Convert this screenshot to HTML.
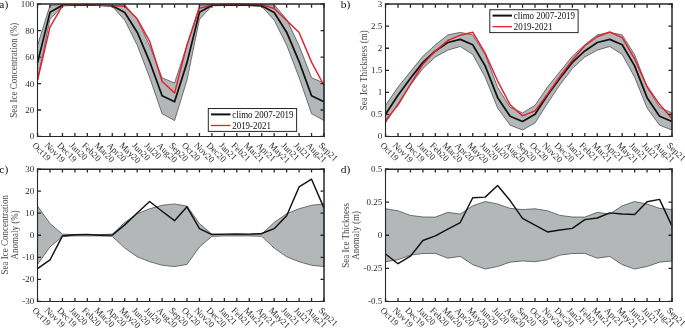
<!DOCTYPE html>
<html><head><meta charset="utf-8"><style>
html,body{margin:0;padding:0;background:#fff;}
body{width:685px;height:328px;overflow:hidden;}
svg{display:block;will-change:transform;}
text{font-family:"Liberation Serif", serif;fill:#2e2e2e;}
.t{font-size:9.0px;}
.l{font-size:9.0px;fill:#4a4a4a;}
.p{font-size:11.0px;fill:#111;}
.g{font-size:9.6px;fill:#111;}
</style></head><body>
<svg width="685" height="328" viewBox="0 0 685 328">
<rect width="685" height="328" fill="#fff"/>
<polygon points="37.55,45.16 50,5.34 62.46,4.55 74.91,4.68 87.37,4.68 99.82,4.81 112.28,5.08 124.73,4.81 137.18,19.3 149.64,45.69 162.09,77.71 174.55,83 187,45.16 199.46,5.34 211.91,4.55 224.37,4.68 236.82,4.68 249.27,4.81 261.73,5.08 274.18,4.81 286.64,19.3 299.09,45.69 311.55,77.71 324,83 324,120.57 311.55,113.69 299.09,77.44 286.64,45.1 274.18,20.16 261.73,6.4 249.27,5.61 236.82,5.47 224.37,5.47 211.91,5.87 199.46,19.36 187,80.09 174.55,120.57 162.09,113.69 149.64,77.44 137.18,45.1 124.73,20.16 112.28,6.4 99.82,5.61 87.37,5.47 74.91,5.47 62.46,5.87 50,19.36 37.55,80.09" fill="#b4b7b8" stroke="#3c3f40" stroke-width="0.7" stroke-linejoin="miter"/>
<polyline points="37.55,62.63 50,12.35 62.46,5.21 74.91,5.08 87.37,5.08 99.82,5.21 112.28,5.74 124.73,12.48 137.18,32.2 149.64,61.57 162.09,95.7 174.55,101.79 187,62.63 199.46,12.35 211.91,5.21 224.37,5.08 236.82,5.08 249.27,5.21 261.73,5.74 274.18,12.48 286.64,32.2 299.09,61.57 311.55,95.7 324,101.79" fill="none" stroke="#111111" stroke-width="1.75" stroke-linejoin="round" stroke-linecap="butt"/>
<polyline points="37.55,79.96 50,27.17 62.46,5.61 74.91,4.81 87.37,4.55 99.82,5.21 112.28,5.64 124.73,6.27 137.18,18.84 149.64,41.33 162.09,81.28 174.55,93.06 187,44.77 199.46,8.38 211.91,4.81 224.37,4.41 236.82,4.28 249.27,4.55 261.73,4.68 274.18,8.52 286.64,20.49 299.09,32.59 311.55,62.1 324,85.51" fill="none" stroke="#e4202c" stroke-width="1.45" stroke-linejoin="round" stroke-linecap="butt"/>
<path d="M37.55 136.45V132.95M37.55 4.15V7.65M50 136.45V132.95M50 4.15V7.65M62.46 136.45V132.95M62.46 4.15V7.65M74.91 136.45V132.95M74.91 4.15V7.65M87.37 136.45V132.95M87.37 4.15V7.65M99.82 136.45V132.95M99.82 4.15V7.65M112.28 136.45V132.95M112.28 4.15V7.65M124.73 136.45V132.95M124.73 4.15V7.65M137.18 136.45V132.95M137.18 4.15V7.65M149.64 136.45V132.95M149.64 4.15V7.65M162.09 136.45V132.95M162.09 4.15V7.65M174.55 136.45V132.95M174.55 4.15V7.65M187 136.45V132.95M187 4.15V7.65M199.46 136.45V132.95M199.46 4.15V7.65M211.91 136.45V132.95M211.91 4.15V7.65M224.37 136.45V132.95M224.37 4.15V7.65M236.82 136.45V132.95M236.82 4.15V7.65M249.27 136.45V132.95M249.27 4.15V7.65M261.73 136.45V132.95M261.73 4.15V7.65M274.18 136.45V132.95M274.18 4.15V7.65M286.64 136.45V132.95M286.64 4.15V7.65M299.09 136.45V132.95M299.09 4.15V7.65M311.55 136.45V132.95M311.55 4.15V7.65M324 136.45V132.95M324 4.15V7.65M37.55 136.45H41.05M324 136.45H320.5M37.55 109.99H41.05M324 109.99H320.5M37.55 83.53H41.05M324 83.53H320.5M37.55 57.07H41.05M324 57.07H320.5M37.55 30.61H41.05M324 30.61H320.5M37.55 4.15H41.05M324 4.15H320.5" stroke="#24282b" stroke-width="1.3" fill="none"/>
<path d="M36.95 4H324.75" stroke="#24282b" stroke-width="1.5" fill="none"/>
<path d="M36.95 136.5H324.65" stroke="#24282b" stroke-width="1.1" fill="none"/>
<path d="M37.5 3.35V137.05" stroke="#24282b" stroke-width="1.1" fill="none"/>
<path d="M324 3.35V137.05" stroke="#24282b" stroke-width="1.5" fill="none"/>
<text x="34.35" y="139.45" text-anchor="end" class="t">0</text>
<text x="34.35" y="112.99" text-anchor="end" class="t">20</text>
<text x="34.35" y="86.53" text-anchor="end" class="t">40</text>
<text x="34.35" y="60.07" text-anchor="end" class="t">60</text>
<text x="34.35" y="33.61" text-anchor="end" class="t">80</text>
<text x="34.35" y="7.15" text-anchor="end" class="t">100</text>
<text transform="translate(31.75 145.95) rotate(45)" class="t">Oct19</text>
<text transform="translate(44.2 145.95) rotate(45)" class="t">Nov19</text>
<text transform="translate(56.66 145.95) rotate(45)" class="t">Dec19</text>
<text transform="translate(69.11 145.95) rotate(45)" class="t">Jan20</text>
<text transform="translate(81.57 145.95) rotate(45)" class="t">Feb20</text>
<text transform="translate(94.02 145.95) rotate(45)" class="t">Mar20</text>
<text transform="translate(106.48 145.95) rotate(45)" class="t">Apr20</text>
<text transform="translate(118.93 145.95) rotate(45)" class="t">May20</text>
<text transform="translate(131.38 145.95) rotate(45)" class="t">Jun20</text>
<text transform="translate(143.84 145.95) rotate(45)" class="t">Jul20</text>
<text transform="translate(156.29 145.95) rotate(45)" class="t">Aug20</text>
<text transform="translate(168.75 145.95) rotate(45)" class="t">Sep20</text>
<text transform="translate(181.2 145.95) rotate(45)" class="t">Oct20</text>
<text transform="translate(193.66 145.95) rotate(45)" class="t">Nov20</text>
<text transform="translate(206.11 145.95) rotate(45)" class="t">Dec20</text>
<text transform="translate(218.57 145.95) rotate(45)" class="t">Jan21</text>
<text transform="translate(231.02 145.95) rotate(45)" class="t">Feb21</text>
<text transform="translate(243.47 145.95) rotate(45)" class="t">Mar21</text>
<text transform="translate(255.93 145.95) rotate(45)" class="t">Apr21</text>
<text transform="translate(268.38 145.95) rotate(45)" class="t">May21</text>
<text transform="translate(280.84 145.95) rotate(45)" class="t">Jun21</text>
<text transform="translate(293.29 145.95) rotate(45)" class="t">Jul21</text>
<text transform="translate(305.75 145.95) rotate(45)" class="t">Aug21</text>
<text transform="translate(318.2 145.95) rotate(45)" class="t">Sep21</text>
<rect x="208.3" y="108.5" width="88.3" height="22.9" fill="#fff" stroke="#24282b" stroke-width="1"/>
<path d="M211 114.4H230.5" stroke="#111111" stroke-width="2"/>
<path d="M211 125.5H230.5" stroke="#e4202c" stroke-width="1.3"/>
<text transform="translate(232.2 117.8) scale(0.934 1)" class="g">climo 2007-2019</text>
<text transform="translate(232.2 128.5) scale(0.934 1)" class="g">2019-2021</text>
<text transform="translate(17 70.2) rotate(-90) scale(1 1.1)" text-anchor="middle" class="l">Sea Ice Concentration (%)</text>
<polygon points="385.55,105.36 398,87.06 410.46,71.62 422.91,56.28 435.37,44.85 447.82,34.89 460.28,32.37 472.73,34.93 485.18,54.64 497.64,87.23 510.09,107.3 522.55,112.9 535,105.36 547.46,87.06 559.91,71.62 572.37,56.28 584.82,44.85 597.27,34.89 609.73,32.37 622.18,34.93 634.64,54.64 647.09,87.23 659.55,107.3 672,112.9 672,130.01 659.55,125.2 647.09,108.05 634.64,77.14 622.18,54.51 609.73,46.49 597.27,50.15 584.82,56.94 572.37,68.45 559.91,84.85 547.46,103.38 535,123 522.55,130.01 510.09,125.2 497.64,108.05 485.18,77.14 472.73,54.51 460.28,46.49 447.82,50.15 435.37,56.94 422.91,68.45 410.46,84.85 398,103.38 385.55,123" fill="#b4b7b8" stroke="#3c3f40" stroke-width="0.7" stroke-linejoin="miter"/>
<polyline points="385.55,114.18 398,95.22 410.46,78.24 422.91,62.36 435.37,50.9 447.82,42.52 460.28,39.43 472.73,44.72 485.18,65.89 497.64,97.64 510.09,116.25 522.55,121.46 535,114.18 547.46,95.22 559.91,78.24 572.37,62.36 584.82,50.9 597.27,42.52 609.73,39.43 622.18,44.72 634.64,65.89 647.09,97.64 659.55,116.25 672,121.46" fill="none" stroke="#111111" stroke-width="1.75" stroke-linejoin="round" stroke-linecap="butt"/>
<polyline points="385.55,120.44 398,105.14 410.46,84.41 422.91,64.13 435.37,51.12 447.82,40.49 460.28,35.2 472.73,32.24 485.18,53.19 497.64,81.06 510.09,104.7 522.55,115.86 535,110.83 547.46,94.11 559.91,76.52 572.37,60.07 584.82,45.69 597.27,36.78 609.73,31.98 622.18,37.67 634.64,58.97 647.09,86.48 659.55,104.3 672,118.41" fill="none" stroke="#e4202c" stroke-width="1.45" stroke-linejoin="round" stroke-linecap="butt"/>
<path d="M385.55 136.45V132.95M385.55 4.15V7.65M398 136.45V132.95M398 4.15V7.65M410.46 136.45V132.95M410.46 4.15V7.65M422.91 136.45V132.95M422.91 4.15V7.65M435.37 136.45V132.95M435.37 4.15V7.65M447.82 136.45V132.95M447.82 4.15V7.65M460.28 136.45V132.95M460.28 4.15V7.65M472.73 136.45V132.95M472.73 4.15V7.65M485.18 136.45V132.95M485.18 4.15V7.65M497.64 136.45V132.95M497.64 4.15V7.65M510.09 136.45V132.95M510.09 4.15V7.65M522.55 136.45V132.95M522.55 4.15V7.65M535 136.45V132.95M535 4.15V7.65M547.46 136.45V132.95M547.46 4.15V7.65M559.91 136.45V132.95M559.91 4.15V7.65M572.37 136.45V132.95M572.37 4.15V7.65M584.82 136.45V132.95M584.82 4.15V7.65M597.27 136.45V132.95M597.27 4.15V7.65M609.73 136.45V132.95M609.73 4.15V7.65M622.18 136.45V132.95M622.18 4.15V7.65M634.64 136.45V132.95M634.64 4.15V7.65M647.09 136.45V132.95M647.09 4.15V7.65M659.55 136.45V132.95M659.55 4.15V7.65M672 136.45V132.95M672 4.15V7.65M385.55 136.45H389.05M672 136.45H668.5M385.55 114.4H389.05M672 114.4H668.5M385.55 92.35H389.05M672 92.35H668.5M385.55 70.3H389.05M672 70.3H668.5M385.55 48.25H389.05M672 48.25H668.5M385.55 26.2H389.05M672 26.2H668.5M385.55 4.15H389.05M672 4.15H668.5" stroke="#24282b" stroke-width="1.3" fill="none"/>
<path d="M384.95 4H672.75" stroke="#24282b" stroke-width="1.5" fill="none"/>
<path d="M384.95 136.5H672.65" stroke="#24282b" stroke-width="1.1" fill="none"/>
<path d="M385.5 3.35V137.05" stroke="#24282b" stroke-width="1.1" fill="none"/>
<path d="M672 3.35V137.05" stroke="#24282b" stroke-width="1.5" fill="none"/>
<text x="382.35" y="139.45" text-anchor="end" class="t">0</text>
<text x="382.35" y="117.4" text-anchor="end" class="t">0.5</text>
<text x="382.35" y="95.35" text-anchor="end" class="t">1</text>
<text x="382.35" y="73.3" text-anchor="end" class="t">1.5</text>
<text x="382.35" y="51.25" text-anchor="end" class="t">2</text>
<text x="382.35" y="29.2" text-anchor="end" class="t">2.5</text>
<text x="382.35" y="7.15" text-anchor="end" class="t">3</text>
<text transform="translate(379.75 145.95) rotate(45)" class="t">Oct19</text>
<text transform="translate(392.2 145.95) rotate(45)" class="t">Nov19</text>
<text transform="translate(404.66 145.95) rotate(45)" class="t">Dec19</text>
<text transform="translate(417.11 145.95) rotate(45)" class="t">Jan20</text>
<text transform="translate(429.57 145.95) rotate(45)" class="t">Feb20</text>
<text transform="translate(442.02 145.95) rotate(45)" class="t">Mar20</text>
<text transform="translate(454.48 145.95) rotate(45)" class="t">Apr20</text>
<text transform="translate(466.93 145.95) rotate(45)" class="t">May20</text>
<text transform="translate(479.38 145.95) rotate(45)" class="t">Jun20</text>
<text transform="translate(491.84 145.95) rotate(45)" class="t">Jul20</text>
<text transform="translate(504.29 145.95) rotate(45)" class="t">Aug20</text>
<text transform="translate(516.75 145.95) rotate(45)" class="t">Sep20</text>
<text transform="translate(529.2 145.95) rotate(45)" class="t">Oct20</text>
<text transform="translate(541.66 145.95) rotate(45)" class="t">Nov20</text>
<text transform="translate(554.11 145.95) rotate(45)" class="t">Dec20</text>
<text transform="translate(566.57 145.95) rotate(45)" class="t">Jan21</text>
<text transform="translate(579.02 145.95) rotate(45)" class="t">Feb21</text>
<text transform="translate(591.47 145.95) rotate(45)" class="t">Mar21</text>
<text transform="translate(603.93 145.95) rotate(45)" class="t">Apr21</text>
<text transform="translate(616.38 145.95) rotate(45)" class="t">May21</text>
<text transform="translate(628.84 145.95) rotate(45)" class="t">Jun21</text>
<text transform="translate(641.29 145.95) rotate(45)" class="t">Jul21</text>
<text transform="translate(653.75 145.95) rotate(45)" class="t">Aug21</text>
<text transform="translate(666.2 145.95) rotate(45)" class="t">Sep21</text>
<rect x="489.8" y="9.7" width="88.3" height="22.9" fill="#fff" stroke="#24282b" stroke-width="1"/>
<path d="M492.5 15.6H512" stroke="#111111" stroke-width="2"/>
<path d="M492.5 26.7H512" stroke="#e4202c" stroke-width="1.3"/>
<text transform="translate(513.7 19) scale(0.934 1)" class="g">climo 2007-2019</text>
<text transform="translate(513.7 29.7) scale(0.934 1)" class="g">2019-2021</text>
<text transform="translate(367 70.2) rotate(-90) scale(1 1.1)" text-anchor="middle" class="l">Sea Ice Thickness (m)</text>
<polygon points="37.55,206.12 50,223.55 62.46,234.15 74.91,234.59 87.37,234.59 99.82,234.59 112.28,234.15 124.73,222.45 137.18,213.74 149.64,208.77 162.09,205.24 174.55,203.92 187,206.12 199.46,223.55 211.91,234.15 224.37,234.59 236.82,234.59 249.27,234.59 261.73,234.15 274.18,222.45 286.64,213.74 299.09,208.77 311.55,205.24 324,203.92 324,266.58 311.55,265.26 299.09,261.73 286.64,256.76 274.18,248.05 261.73,236.35 249.27,235.91 236.82,235.91 224.37,235.91 211.91,236.35 199.46,246.95 187,264.38 174.55,266.58 162.09,265.26 149.64,261.73 137.18,256.76 124.73,248.05 112.28,236.35 99.82,235.91 87.37,235.91 74.91,235.91 62.46,236.35 50,246.95 37.55,264.38" fill="#b4b7b8" stroke="#3c3f40" stroke-width="0.7" stroke-linejoin="miter"/>
<polyline points="37.55,268.57 50,259.96 62.46,235.91 74.91,234.81 87.37,234.37 99.82,235.25 112.28,235.1 124.73,224.88 137.18,212.96 149.64,201.49 162.09,211.2 174.55,220.69 187,206.78 199.46,228.63 211.91,234.59 224.37,234.15 236.82,233.93 249.27,234.15 261.73,233.48 274.18,228.63 286.64,215.72 299.09,186.92 311.55,179.2 324,208.11" fill="none" stroke="#111111" stroke-width="1.45" stroke-linejoin="round" stroke-linecap="butt"/>
<path d="M37.55 301.45V297.95M37.55 169.05V172.55M50 301.45V297.95M50 169.05V172.55M62.46 301.45V297.95M62.46 169.05V172.55M74.91 301.45V297.95M74.91 169.05V172.55M87.37 301.45V297.95M87.37 169.05V172.55M99.82 301.45V297.95M99.82 169.05V172.55M112.28 301.45V297.95M112.28 169.05V172.55M124.73 301.45V297.95M124.73 169.05V172.55M137.18 301.45V297.95M137.18 169.05V172.55M149.64 301.45V297.95M149.64 169.05V172.55M162.09 301.45V297.95M162.09 169.05V172.55M174.55 301.45V297.95M174.55 169.05V172.55M187 301.45V297.95M187 169.05V172.55M199.46 301.45V297.95M199.46 169.05V172.55M211.91 301.45V297.95M211.91 169.05V172.55M224.37 301.45V297.95M224.37 169.05V172.55M236.82 301.45V297.95M236.82 169.05V172.55M249.27 301.45V297.95M249.27 169.05V172.55M261.73 301.45V297.95M261.73 169.05V172.55M274.18 301.45V297.95M274.18 169.05V172.55M286.64 301.45V297.95M286.64 169.05V172.55M299.09 301.45V297.95M299.09 169.05V172.55M311.55 301.45V297.95M311.55 169.05V172.55M324 301.45V297.95M324 169.05V172.55M37.55 301.45H41.05M324 301.45H320.5M37.55 279.38H41.05M324 279.38H320.5M37.55 257.32H41.05M324 257.32H320.5M37.55 235.25H41.05M324 235.25H320.5M37.55 213.18H41.05M324 213.18H320.5M37.55 191.12H41.05M324 191.12H320.5M37.55 169.05H41.05M324 169.05H320.5" stroke="#24282b" stroke-width="1.3" fill="none"/>
<path d="M36.95 169.2H324.75" stroke="#24282b" stroke-width="1.4" fill="none"/>
<path d="M36.95 301.5H324.65" stroke="#24282b" stroke-width="1.1" fill="none"/>
<path d="M37.5 168.55V302.05" stroke="#24282b" stroke-width="1.1" fill="none"/>
<path d="M324 168.55V302.05" stroke="#24282b" stroke-width="1.5" fill="none"/>
<text x="34.35" y="304.45" text-anchor="end" class="t">-30</text>
<text x="34.35" y="282.38" text-anchor="end" class="t">-20</text>
<text x="34.35" y="260.32" text-anchor="end" class="t">-10</text>
<text x="34.35" y="238.25" text-anchor="end" class="t">0</text>
<text x="34.35" y="216.18" text-anchor="end" class="t">10</text>
<text x="34.35" y="194.12" text-anchor="end" class="t">20</text>
<text x="34.35" y="172.05" text-anchor="end" class="t">30</text>
<text transform="translate(31.75 310.95) rotate(45)" class="t">Oct19</text>
<text transform="translate(44.2 310.95) rotate(45)" class="t">Nov19</text>
<text transform="translate(56.66 310.95) rotate(45)" class="t">Dec19</text>
<text transform="translate(69.11 310.95) rotate(45)" class="t">Jan20</text>
<text transform="translate(81.57 310.95) rotate(45)" class="t">Feb20</text>
<text transform="translate(94.02 310.95) rotate(45)" class="t">Mar20</text>
<text transform="translate(106.48 310.95) rotate(45)" class="t">Apr20</text>
<text transform="translate(118.93 310.95) rotate(45)" class="t">May20</text>
<text transform="translate(131.38 310.95) rotate(45)" class="t">Jun20</text>
<text transform="translate(143.84 310.95) rotate(45)" class="t">Jul20</text>
<text transform="translate(156.29 310.95) rotate(45)" class="t">Aug20</text>
<text transform="translate(168.75 310.95) rotate(45)" class="t">Sep20</text>
<text transform="translate(181.2 310.95) rotate(45)" class="t">Oct20</text>
<text transform="translate(193.66 310.95) rotate(45)" class="t">Nov20</text>
<text transform="translate(206.11 310.95) rotate(45)" class="t">Dec20</text>
<text transform="translate(218.57 310.95) rotate(45)" class="t">Jan21</text>
<text transform="translate(231.02 310.95) rotate(45)" class="t">Feb21</text>
<text transform="translate(243.47 310.95) rotate(45)" class="t">Mar21</text>
<text transform="translate(255.93 310.95) rotate(45)" class="t">Apr21</text>
<text transform="translate(268.38 310.95) rotate(45)" class="t">May21</text>
<text transform="translate(280.84 310.95) rotate(45)" class="t">Jun21</text>
<text transform="translate(293.29 310.95) rotate(45)" class="t">Jul21</text>
<text transform="translate(305.75 310.95) rotate(45)" class="t">Aug21</text>
<text transform="translate(318.2 310.95) rotate(45)" class="t">Sep21</text>
<text transform="translate(7.6 234.8) rotate(-90) scale(1 1.1)" text-anchor="middle" class="l">Sea Ice Concentration</text>
<text transform="translate(17.5 234.8) rotate(-90) scale(1 1.1)" text-anchor="middle" class="l">Anomaly (%)</text>
<polygon points="385.55,208.77 398,210.76 410.46,215.39 422.91,216.98 435.37,217.11 447.82,212.34 460.28,214.07 472.73,205.86 485.18,201.49 497.64,204 510.09,208.37 522.55,209.56 535,208.77 547.46,210.76 559.91,215.39 572.37,216.98 584.82,217.11 597.27,212.34 609.73,214.07 622.18,205.86 634.64,201.49 647.09,204 659.55,208.37 672,209.56 672,260.94 659.55,262.13 647.09,266.5 634.64,269.01 622.18,264.64 609.73,256.43 597.27,258.16 584.82,253.39 572.37,253.52 559.91,255.11 547.46,259.74 535,261.73 522.55,260.94 510.09,262.13 497.64,266.5 485.18,269.01 472.73,264.64 460.28,256.43 447.82,258.16 435.37,253.39 422.91,253.52 410.46,255.11 398,259.74 385.55,261.73" fill="#b4b7b8" stroke="#3c3f40" stroke-width="0.7" stroke-linejoin="miter"/>
<polyline points="385.55,254.05 398,263.72 410.46,256.17 422.91,240.55 435.37,235.91 447.82,229.16 460.28,222.54 472.73,197.78 485.18,197.12 497.64,185.47 510.09,200.56 522.55,218.44 535,225.19 547.46,231.94 559.91,230.09 572.37,228.37 584.82,219.63 597.27,218.04 609.73,212.87 622.18,214.07 634.64,214.46 647.09,201.75 659.55,199.37 672,226.11" fill="none" stroke="#111111" stroke-width="1.45" stroke-linejoin="round" stroke-linecap="butt"/>
<path d="M385.55 301.45V297.95M385.55 169.05V172.55M398 301.45V297.95M398 169.05V172.55M410.46 301.45V297.95M410.46 169.05V172.55M422.91 301.45V297.95M422.91 169.05V172.55M435.37 301.45V297.95M435.37 169.05V172.55M447.82 301.45V297.95M447.82 169.05V172.55M460.28 301.45V297.95M460.28 169.05V172.55M472.73 301.45V297.95M472.73 169.05V172.55M485.18 301.45V297.95M485.18 169.05V172.55M497.64 301.45V297.95M497.64 169.05V172.55M510.09 301.45V297.95M510.09 169.05V172.55M522.55 301.45V297.95M522.55 169.05V172.55M535 301.45V297.95M535 169.05V172.55M547.46 301.45V297.95M547.46 169.05V172.55M559.91 301.45V297.95M559.91 169.05V172.55M572.37 301.45V297.95M572.37 169.05V172.55M584.82 301.45V297.95M584.82 169.05V172.55M597.27 301.45V297.95M597.27 169.05V172.55M609.73 301.45V297.95M609.73 169.05V172.55M622.18 301.45V297.95M622.18 169.05V172.55M634.64 301.45V297.95M634.64 169.05V172.55M647.09 301.45V297.95M647.09 169.05V172.55M659.55 301.45V297.95M659.55 169.05V172.55M672 301.45V297.95M672 169.05V172.55M385.55 301.45H389.05M672 301.45H668.5M385.55 268.35H389.05M672 268.35H668.5M385.55 235.25H389.05M672 235.25H668.5M385.55 202.15H389.05M672 202.15H668.5M385.55 169.05H389.05M672 169.05H668.5" stroke="#24282b" stroke-width="1.3" fill="none"/>
<path d="M384.95 169.2H672.75" stroke="#24282b" stroke-width="1.4" fill="none"/>
<path d="M384.95 301.5H672.65" stroke="#24282b" stroke-width="1.1" fill="none"/>
<path d="M385.5 168.55V302.05" stroke="#24282b" stroke-width="1.1" fill="none"/>
<path d="M672 168.55V302.05" stroke="#24282b" stroke-width="1.5" fill="none"/>
<text x="382.35" y="304.45" text-anchor="end" class="t">-0.5</text>
<text x="382.35" y="271.35" text-anchor="end" class="t">-0.25</text>
<text x="382.35" y="238.25" text-anchor="end" class="t">0</text>
<text x="382.35" y="205.15" text-anchor="end" class="t">0.25</text>
<text x="382.35" y="172.05" text-anchor="end" class="t">0.5</text>
<text transform="translate(379.75 310.95) rotate(45)" class="t">Oct19</text>
<text transform="translate(392.2 310.95) rotate(45)" class="t">Nov19</text>
<text transform="translate(404.66 310.95) rotate(45)" class="t">Dec19</text>
<text transform="translate(417.11 310.95) rotate(45)" class="t">Jan20</text>
<text transform="translate(429.57 310.95) rotate(45)" class="t">Feb20</text>
<text transform="translate(442.02 310.95) rotate(45)" class="t">Mar20</text>
<text transform="translate(454.48 310.95) rotate(45)" class="t">Apr20</text>
<text transform="translate(466.93 310.95) rotate(45)" class="t">May20</text>
<text transform="translate(479.38 310.95) rotate(45)" class="t">Jun20</text>
<text transform="translate(491.84 310.95) rotate(45)" class="t">Jul20</text>
<text transform="translate(504.29 310.95) rotate(45)" class="t">Aug20</text>
<text transform="translate(516.75 310.95) rotate(45)" class="t">Sep20</text>
<text transform="translate(529.2 310.95) rotate(45)" class="t">Oct20</text>
<text transform="translate(541.66 310.95) rotate(45)" class="t">Nov20</text>
<text transform="translate(554.11 310.95) rotate(45)" class="t">Dec20</text>
<text transform="translate(566.57 310.95) rotate(45)" class="t">Jan21</text>
<text transform="translate(579.02 310.95) rotate(45)" class="t">Feb21</text>
<text transform="translate(591.47 310.95) rotate(45)" class="t">Mar21</text>
<text transform="translate(603.93 310.95) rotate(45)" class="t">Apr21</text>
<text transform="translate(616.38 310.95) rotate(45)" class="t">May21</text>
<text transform="translate(628.84 310.95) rotate(45)" class="t">Jun21</text>
<text transform="translate(641.29 310.95) rotate(45)" class="t">Jul21</text>
<text transform="translate(653.75 310.95) rotate(45)" class="t">Aug21</text>
<text transform="translate(666.2 310.95) rotate(45)" class="t">Sep21</text>
<text transform="translate(349 235.3) rotate(-90) scale(1 1.1)" text-anchor="middle" class="l">Sea Ice Thickness</text>
<text transform="translate(358.9 235.3) rotate(-90) scale(1 1.1)" text-anchor="middle" class="l">Anomaly (m)</text>
<text transform="translate(-0.7 7.6) scale(1.045 1)" class="p">a)</text>
<text transform="translate(340.7 7.6) scale(1.045 1)" class="p">b)</text>
<text transform="translate(-0.7 172.5) scale(1.045 1)" class="p">c)</text>
<text transform="translate(340.7 172.5) scale(1.045 1)" class="p">d)</text>
</svg>
</body></html>
